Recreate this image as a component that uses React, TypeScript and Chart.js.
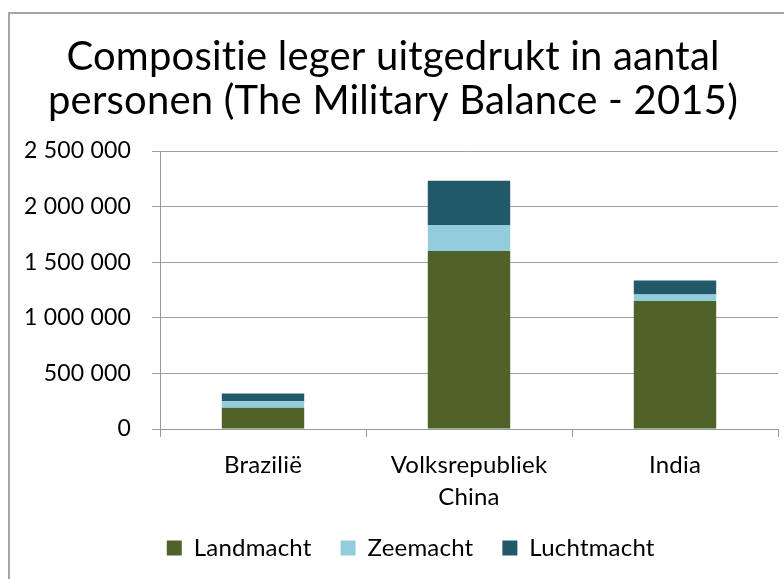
import React, { useEffect, useRef } from "react";
import { Chart, registerables } from "chart.js";

Chart.register(...registerables);

const categories: (string | string[])[] = ["Brazilië", ["Volksrepubliek", "China"], "India"];
const landmacht = [190000, 1600000, 1150900];
const zeemacht = [59000, 235000, 58350];
const luchtmacht = [69500, 398000, 127200];
const yTicks = [0, 500000, 1000000, 1500000, 2000000, 2500000];
const titleLines = ["Compositie leger uitgedrukt in aantal", "personen (The Military Balance - 2015)"];

const FONT = "Lato";

function fmt(v: number): string {
  return String(v).replace(/\B(?=(\d{3})+(?!\d))/g, " ");
}

const layoutFix = {
  id: "layoutFix",
  beforeLayout(chart: any) {
    const lg = chart.legend;
    if (lg && !lg.__patched) {
      const orig = lg.fit;
      lg.fit = function () {
        orig.call(this);
        this.height = 60;
      };
      lg.__patched = true;
    }
  },
  afterLayout(chart: any) {
    const lg = chart.legend;
    if (lg) {
      lg.top -= 12;
      lg.bottom -= 12;
      lg.left += 15;
      lg.right += 15;
    }
  },
  beforeDraw(chart: any) {
    (chart.ctx as any).letterSpacing = "0.2px";
  },
};

export default function App() {
  const ref = useRef<HTMLCanvasElement>(null);
  useEffect(() => {
    document.documentElement.style.overflow = "hidden";
    const chart = new Chart(ref.current!, {
      type: "bar",
      data: {
        labels: categories as any,
        datasets: [
          { label: "Landmacht", data: landmacht, backgroundColor: "#4F6228" },
          { label: "Zeemacht", data: zeemacht, backgroundColor: "#93CDDD" },
          { label: "Luchtmacht", data: luchtmacht, backgroundColor: "#215968" },
        ],
      },
      options: {
        responsive: false,
        animation: false,
        layout: { padding: { left: 8, right: 6, top: 0, bottom: 0 } },
        datasets: { bar: { categoryPercentage: 1, barPercentage: 0.4 } } as any,
        plugins: {
          title: {
            display: true,
            text: titleLines,
            color: "#000",
            font: { family: FONT, size: 40, weight: "normal", lineHeight: 1.1 },
            padding: { top: 35, bottom: 28 },
          },
          legend: {
            position: "bottom",
            labels: {
              boxWidth: 15,
              boxHeight: 15,
              color: "#000",
              padding: 29,
              font: { family: FONT, size: 24 },
            },
          },
          tooltip: { enabled: false },
        },
        scales: {
          x: {
            stacked: true,
            grid: { offset: true, drawOnChartArea: false, drawTicks: true, tickLength: 8, color: "#999999" },
            border: { color: "#999999", width: 1 },
            ticks: { color: "#000", padding: 12, font: { family: FONT, size: 24, lineHeight: 1.33 }, maxRotation: 0 },
            afterFit(scale: any) {
              scale.height = 90;
            },
          },
          y: {
            stacked: true,
            min: 0,
            max: 2500000,
            afterBuildTicks(scale: any) {
              scale.ticks = yTicks.map((v) => ({ value: v }));
            },
            grid: { color: "#a0a0a0", tickLength: 8 },
            border: { color: "#999999", width: 1 },
            ticks: {
              color: "#000",
              padding: 21,
              font: { family: FONT, size: 23 },
              callback: (v: any) => fmt(Number(v)),
            },
            afterFit(scale: any) {
              scale.width = 152;
            },
          },
        },
      },
      plugins: [layoutFix],
    });
    return () => chart.destroy();
  }, []);
  return (
    <div style={{ position: "fixed", left: 0, top: 0, width: 784, height: 579, background: "#fff", overflow: "hidden" }}>
      <div
        style={{
          position: "absolute",
          left: 8,
          top: 12,
          width: 820,
          height: 620,
          border: "2px solid #a6a6a6",
          boxSizing: "border-box",
        }}
      />
      <canvas ref={ref} width={784} height={579} style={{ position: "absolute", left: 0, top: 0 }} />
    </div>
  );
}
